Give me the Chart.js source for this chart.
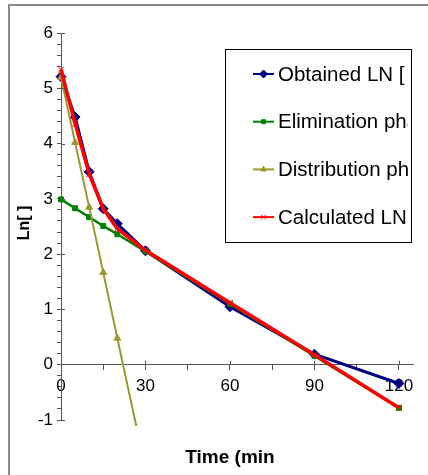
<!DOCTYPE html>
<html>
<head>
<meta charset="utf-8">
<script src="https://cdn.jsdelivr.net/npm/chart.js@4/dist/chart.umd.min.js"></script>
<style>
  html, body { margin: 0; padding: 0; background: #fff; }
  #wrap { position: relative; width: 428px; height: 475px; overflow: hidden; }
</style>
</head>
<body>
<div id="wrap"><canvas id="lnChart" width="428" height="475"></canvas></div>
<script>
// sampling times (min)
var times = [0, 5, 10, 15, 20, 30, 60, 90, 120];

// ln concentration per series
var obtainedLn = [5.21, 4.48, 3.49, 2.82, 2.55, 2.06, 1.05, 0.19, -0.34];
var eliminationLn = [2.99, 2.83, 2.67, 2.51, 2.36, 2.05, 1.10, 0.16, -0.78];
var distributionLn = [5.20, 4.02, 2.85, 1.67, 0.48, -1.88, null, null, null];
var calculatedLn = [5.34, 4.36, 3.45, 2.82, 2.46, 2.07, 1.12, 0.18, -0.78];

var seriesNames = ["Obtained LN [ ]", "Elimination phase", "Distribution phase", "Calculated LN [ ]"];

// axis ticks
var xTickLabels = [0, 30, 60, 90, 120];
var yTickLabels = [-1, 0, 1, 2, 3, 4, 5, 6];
var xMinorStep = 15, yMinorStep = 0.2;
var xTitle = "Time (min";
var yTitle = "Ln[ ]";

var FONT = "'Liberation Sans', Arial, sans-serif";
var AXIS_COLOR = "#555555";

function toPoints(values) {
    return times.map(function (t, i) { return { x: t, y: values[i] }; });
}

function isMajor(list, v) {
    return list.some(function (m) { return Math.abs(m - v) < 1e-6; });
}

// minor + major tick values, majors get labels
function buildTicks(list, step) {
    var out = [];
    var lo = list[0], hi = list[list.length - 1];
    var n = Math.round((hi - lo) / step);
    for (var i = 0; i <= n; i++) {
        out.push({ value: Math.round((lo + i * step) * 1000) / 1000 });
    }
    return out;
}

// outer frame of the chart object
var framePlugin = {
    id: "frame",
    beforeDraw: function (chart) {
        var ctx = chart.ctx;
        ctx.save();
        ctx.fillStyle = "#fff";
        ctx.fillRect(0, 0, chart.width, chart.height);
        ctx.strokeStyle = "#8a8a8a";
        ctx.lineWidth = 2;
        ctx.strokeRect(9, 5, 600, 600);
        ctx.restore();
    }
};

// major ticks cross the axis line (inside half)
var crossTicksPlugin = {
    id: "crossTicks",
    afterDraw: function (chart) {
        var ctx = chart.ctx;
        var xs = chart.scales.x, ys = chart.scales.y;
        var x0 = xs.getPixelForValue(0), y0 = ys.getPixelForValue(0);
        ctx.save();
        ctx.strokeStyle = AXIS_COLOR;
        ctx.lineWidth = 1;
        ctx.beginPath();
        xTickLabels.forEach(function (v) {
            if (v === 0) return;
            var px = Math.round(xs.getPixelForValue(v)) + 0.5;
            ctx.moveTo(px, y0 - 4);
            ctx.lineTo(px, y0);
        });
        yTickLabels.forEach(function (v) {
            if (v === 0) return;
            var py = Math.round(ys.getPixelForValue(v)) + 0.5;
            ctx.moveTo(x0, py);
            ctx.lineTo(x0 + 4, py);
        });
        ctx.stroke();
        ctx.restore();
    }
};

// boxed legend inside the plot, text cut at the box edge
var legendBoxPlugin = {
    id: "legendBox",
    afterDraw: function (chart) {
        var ctx = chart.ctx;
        var left = 225, top = 49, right = 411, bottom = 242;
        ctx.save();
        ctx.fillStyle = "#fff";
        ctx.fillRect(left, top, right - left, bottom - top);
        ctx.strokeStyle = "#000";
        ctx.lineWidth = 1;
        ctx.strokeRect(left + 0.5, top + 0.5, right - left, bottom - top);
        chart.data.datasets.forEach(function (ds, i) {
            var cy = 74 + i * 47.7;
            ctx.strokeStyle = ds.borderColor;
            ctx.lineWidth = 2;
            ctx.beginPath();
            ctx.moveTo(253, cy);
            ctx.lineTo(274, cy);
            ctx.stroke();
            ctx.fillStyle = ds.pointBackgroundColor;
            ctx.strokeStyle = ds.pointBorderColor;
            ctx.lineWidth = 1;
            Chart.helpers.drawPoint(ctx, {
                pointStyle: ds.pointStyle,
                radius: ds.pointRadius * 0.8,
                rotation: 0,
                borderWidth: 1
            }, 263.5, cy);
            ctx.save();
            ctx.beginPath();
            ctx.rect(left, top, 408 - left, bottom - top);
            ctx.clip();
            ctx.fillStyle = "#000";
            ctx.font = "20.5px " + FONT;
            ctx.textBaseline = "middle";
            ctx.fillText(ds.label, 278, cy + 1);
            ctx.restore();
        });
        ctx.restore();
    }
};

// axis titles
var titlesPlugin = {
    id: "axisTitles",
    afterDraw: function (chart) {
        var ctx = chart.ctx;
        ctx.save();
        ctx.fillStyle = "#000";
        ctx.textAlign = "center";
        ctx.textBaseline = "middle";
        ctx.font = "bold 19px " + FONT;
        ctx.fillText(xTitle, 230, 458);
        ctx.translate(25, 223);
        ctx.rotate(-Math.PI / 2);
        ctx.font = "bold 16px " + FONT;
        ctx.fillText(yTitle, 0, 0);
        ctx.restore();
    }
};

function makeSeries(label, values, color, style, radius, width, order) {
    return {
        label: label,
        data: toPoints(values),
        borderColor: color,
        backgroundColor: color,
        pointBackgroundColor: color,
        pointBorderColor: color,
        pointStyle: style,
        pointRadius: radius,
        pointBorderWidth: 1,
        borderWidth: width,
        tension: 0,
        fill: false,
        spanGaps: false,
        order: order,
        clip: { left: 6, top: 6, right: 6, bottom: 6 }
    };
}

var ctx = document.getElementById("lnChart");
var lnChart = new Chart(ctx, {
    type: "line",
    data: {
        datasets: [
            makeSeries(seriesNames[0], obtainedLn, "#000080", "rectRot", 5, 3, 4),
            makeSeries(seriesNames[1], eliminationLn, "#008000", "rect", 3.5, 2.5, 3),
            makeSeries(seriesNames[2], distributionLn, "#999933", "triangle", 4, 2, 2),
            makeSeries(seriesNames[3], calculatedLn, "#ff0000", "crossRot", 4, 3.5, 1)
        ]
    },
    options: {
        responsive: false,
        animation: false,
        events: [],
        layout: { padding: { left: 11, top: 33, right: 15, bottom: 55 } },
        plugins: {
            legend: { display: false },
            tooltip: { enabled: false }
        },
        scales: {
            x: {
                type: "linear",
                position: { y: 0 },
                min: 0,
                max: 125,
                afterBuildTicks: function (scale) {
                    scale.ticks = buildTicks([0, 120], xMinorStep);
                },
                border: { display: true, color: AXIS_COLOR, width: 1 },
                grid: {
                    drawOnChartArea: false,
                    drawTicks: true,
                    tickLength: 5,
                    tickColor: AXIS_COLOR
                },
                ticks: {
                    color: "#000",
                    font: { family: FONT, size: 17 },
                    padding: 6,
                    maxRotation: 0,
                    autoSkip: false,
                    callback: function (v) { return isMajor(xTickLabels, v) ? String(v) : ""; }
                }
            },
            y: {
                type: "linear",
                position: "left",
                min: -1,
                max: 6,
                afterFit: function (scale) { scale.width = 50; },
                afterBuildTicks: function (scale) {
                    scale.ticks = buildTicks([-1, 6], yMinorStep);
                },
                border: { display: true, color: AXIS_COLOR, width: 1 },
                grid: {
                    drawOnChartArea: false,
                    drawTicks: true,
                    tickLength: 4,
                    tickColor: AXIS_COLOR
                },
                ticks: {
                    color: "#000",
                    font: { family: FONT, size: 17 },
                    padding: 4,
                    autoSkip: false,
                    callback: function (v) { return isMajor(yTickLabels, v) ? String(v) : ""; }
                }
            }
        }
    },
    plugins: [framePlugin, crossTicksPlugin, legendBoxPlugin, titlesPlugin]
});
</script>
</body>
</html>
